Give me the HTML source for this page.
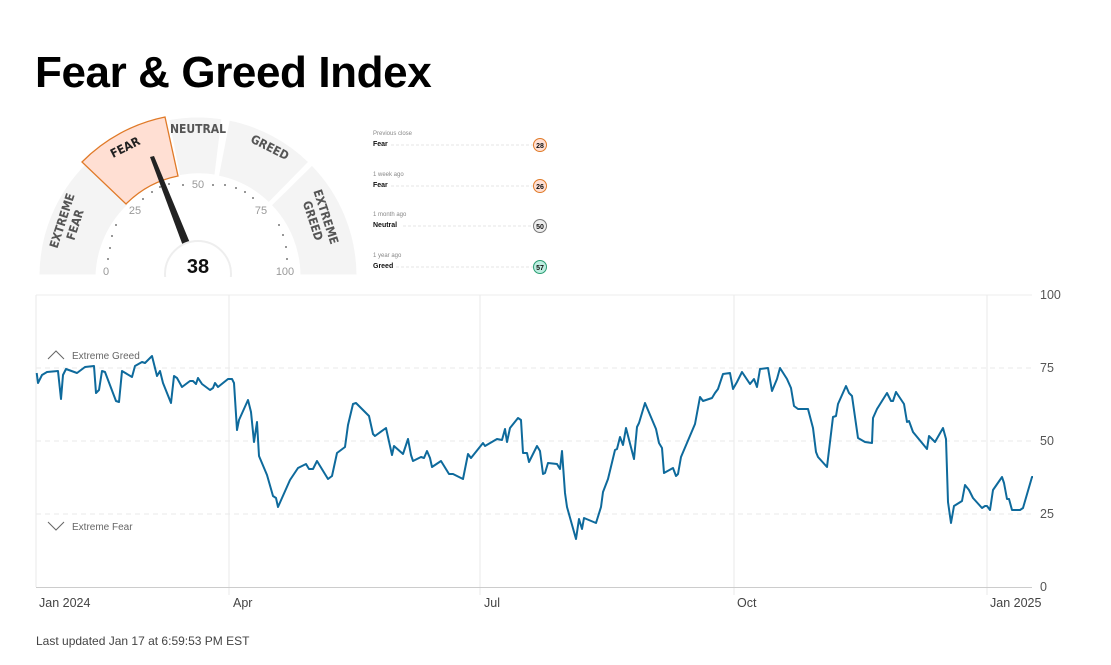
<!DOCTYPE html>
<html><head><meta charset="utf-8"><style>
body{margin:0;background:#fff;width:1111px;height:660px;overflow:hidden;font-family:"Liberation Sans",sans-serif;}
</style></head><body>
<svg width="1111" height="660" viewBox="0 0 1111 660" xmlns="http://www.w3.org/2000/svg" font-family="Liberation Sans, sans-serif">
<text x="35" y="87" font-size="44" font-weight="bold" fill="#000" letter-spacing="-0.4">Fear &amp; Greed Index</text>

<!-- gauge -->
<g stroke="#fff" stroke-width="3">
<path d="M38,276 A160,160 0 0 1 84.9,162.9 L129.6,204.6 A101,101 0 0 0 97,276 Z" fill="#f4f4f4"/>
<path d="M167.5,118.9 A160,160 0 0 1 223,118 L215.8,176.2 A101,101 0 0 0 178.7,176.9 Z" fill="#f4f4f4"/>
<path d="M228.5,118.9 A160,160 0 0 1 310.1,161.9 L268.8,204 A101,101 0 0 0 217.3,176.9 Z" fill="#f4f4f4"/>
<path d="M312,163.8 A160,160 0 0 1 358,276 L299,276 A101,101 0 0 0 270,205.2 Z" fill="#f4f4f4"/>
</g>
<path d="M82,162 A162,162 0 0 1 165,117 L178,176 A101,101 0 0 0 126,204 Z" fill="#ffdfd3" stroke="#e07a28" stroke-width="1.3"/>
<g font-size="12" font-weight="bold" fill="#555" text-anchor="middle" font-family="DejaVu Sans Condensed, Liberation Sans Narrow, sans-serif">
<text transform="translate(66,222) rotate(-72)">EXTREME</text>
<text transform="translate(79,226) rotate(-72)">FEAR</text>
<text transform="translate(127,151) rotate(-27)" fill="#222">FEAR</text>
<text x="198" y="133">NEUTRAL</text>
<text transform="translate(268,151) rotate(27)">GREED</text>
<text transform="translate(322,218) rotate(72)">EXTREME</text>
<text transform="translate(309,222) rotate(72)">GREED</text>
</g>
<g font-size="11" fill="#999" text-anchor="middle">
<text x="106" y="275">0</text><text x="135" y="214">25</text><text x="198" y="188">50</text><text x="261" y="214">75</text><text x="285" y="275">100</text>
</g>
<g fill="#777">
<circle cx="108" cy="259" r="1"/><circle cx="110" cy="248" r="1"/><circle cx="112" cy="236" r="1"/><circle cx="116" cy="225" r="1"/><circle cx="143" cy="199" r="1"/><circle cx="152" cy="192" r="1"/><circle cx="160" cy="187" r="1"/><circle cx="169" cy="184" r="1"/><circle cx="183" cy="185" r="1"/><circle cx="213" cy="185" r="1"/><circle cx="225" cy="185" r="1"/><circle cx="236" cy="188" r="1"/><circle cx="245" cy="192" r="1"/><circle cx="253" cy="198" r="1"/><circle cx="279" cy="225" r="1"/><circle cx="283" cy="235" r="1"/><circle cx="286" cy="247" r="1"/><circle cx="287" cy="259" r="1"/>
</g>
<polygon points="150,157 154,156 190,243 183,246" fill="#222"/>
<circle cx="198" cy="274" r="33" fill="#fff" stroke="#eee" stroke-width="2"/>
<rect x="150" y="277" width="100" height="34" fill="#fff"/>
<text x="198" y="273" font-size="20" font-weight="bold" text-anchor="middle" fill="#111">38</text>

<!-- history list -->
<g font-size="6" fill="#888">
<text x="373" y="135">Previous close</text><text x="373" y="176">1 week ago</text><text x="373" y="216">1 month ago</text><text x="373" y="257">1 year ago</text>
</g>
<g font-size="7" font-weight="bold" fill="#111">
<text x="373" y="146">Fear</text><text x="373" y="187">Fear</text><text x="373" y="227">Neutral</text><text x="373" y="268">Greed</text>
</g>
<g stroke="#ddd" stroke-width="0.8" stroke-dasharray="3,2">
<line x1="391" y1="145" x2="533" y2="145"/><line x1="391" y1="186" x2="533" y2="186"/><line x1="403" y1="226" x2="533" y2="226"/><line x1="396" y1="267" x2="533" y2="267"/>
</g>
<g stroke-width="1" font-size="7" font-weight="bold" text-anchor="middle">
<circle cx="540" cy="145" r="6.5" fill="#ffdfd3" stroke="#e07a28"/><text x="540" y="148" fill="#111">28</text>
<circle cx="540" cy="186" r="6.5" fill="#ffdfd3" stroke="#e07a28"/><text x="540" y="189" fill="#111">26</text>
<circle cx="540" cy="226" r="6.5" fill="#eee" stroke="#777"/><text x="540" y="229" fill="#111">50</text>
<circle cx="540" cy="267" r="6.5" fill="#bdeee0" stroke="#2a9d73"/><text x="540" y="270" fill="#111">57</text>
</g>

<!-- chart -->
<line x1="36" y1="295" x2="1032" y2="295" stroke="#eee"/>
<g stroke="#e8e8e8" stroke-dasharray="5,4"><line x1="36" y1="368" x2="1032" y2="368"/><line x1="36" y1="441" x2="1032" y2="441"/><line x1="36" y1="514" x2="1032" y2="514"/></g>
<g stroke="#eaeaea"><line x1="36" y1="295" x2="36" y2="587"/><line x1="229" y1="295" x2="229" y2="595"/><line x1="480" y1="295" x2="480" y2="595"/><line x1="734" y1="295" x2="734" y2="595"/><line x1="987" y1="295" x2="987" y2="595"/></g>
<line x1="36" y1="587.5" x2="1032" y2="587.5" stroke="#ccc"/>
<g font-size="12.5" fill="#555"><text x="1040" y="299">100</text><text x="1040" y="372">75</text><text x="1040" y="445">50</text><text x="1040" y="518">25</text><text x="1040" y="591">0</text></g>
<g font-size="12.5" fill="#444"><text x="39" y="607">Jan 2024</text><text x="233" y="607">Apr</text><text x="484" y="607">Jul</text><text x="737" y="607">Oct</text><text x="990" y="607">Jan 2025</text></g>
<polyline points="48,359 56,351 64,359" fill="none" stroke="#666" stroke-width="1"/>
<text x="72" y="359" font-size="10" fill="#666">Extreme Greed</text>
<polyline points="48,522 56,530 64,522" fill="none" stroke="#666" stroke-width="1"/>
<text x="72" y="530" font-size="10" fill="#666">Extreme Fear</text>
<polyline fill="none" stroke="#0e6a9c" stroke-width="2" stroke-linejoin="round" points="36.7,373 38,383 42,375 47,372 58,371 61,399 63,375 66,369 77,373 85,367 94,366 96,393 99,390 102,371 105,372 116,401 119,402 122,371 132,377 135,366 142,362 145,363 152,356 157,376 160,371 163,383 171,403 174,376 177,378 182,387 190,381 193,381 196,384 198,378 202,384 210,390 213,388 215,383 218,387 228,379 232,379 234,383 237,430 239,420 248,400 251,412 254,442 257,422 259,456 267,475 273,496 276,498 278,507 290,480 298,468 306,464 309,469 313,469 317,461 328,479 332,476 337,453 345,447 348,425 353,404 356,403 369,416 373,434 375,436 386,428 392,455 394,446 403,454 408,439 411,455 413,461 421,457 424,458 427,451 430,458 432,467 441,461 449,474 453,474 463,479 468,454 471,458 483,443 485,446 497,439 502,440 505,429 507,442 510,428 518,418 521,420 523,453 527,453 529,462 537,446 540,451 543,474 545,473 548,463 557,464 560,469 562,451 565,493 567,507 576,539 579,519 582,529 584,518 596,523 601,507 603,492 608,479 615,450 617,449 620,437 623,445 626,428 634,459 637,427 639,423 645,403 656,429 659,443 662,448 664,473 673,468 676,476 678,474 681,457 695,424 700,397 703,401 712,398 715,393 718,389 723,374 730,373 733,389 737,382 742,372 750,384 754,379 757,387 760,369 768,368 772,391 777,379 780,368 787,379 791,388 794,406 798,409 808,409 813,428 816,452 818,457 827,467 833,417 836,416 838,404 846,386 849,393 852,396 858,438 865,442 872,443 873,418 877,409 887,393 891,401 893,401 896,392 904,404 907,422 909,421 913,432 927,449 929,436 935,442 943,428 946,439 948,502 951,523 954,506 962,501 965,485 969,490 973,498 982,508 985,506 987,506 990,510 993,490 1002,477 1004,483 1007,499 1009,499 1012,510 1020,510 1023,508 1032,477 1033,477"/>
<text x="36" y="645" font-size="12" fill="#444">Last updated Jan 17 at 6:59:53 PM EST</text>
</svg>
</body></html>
